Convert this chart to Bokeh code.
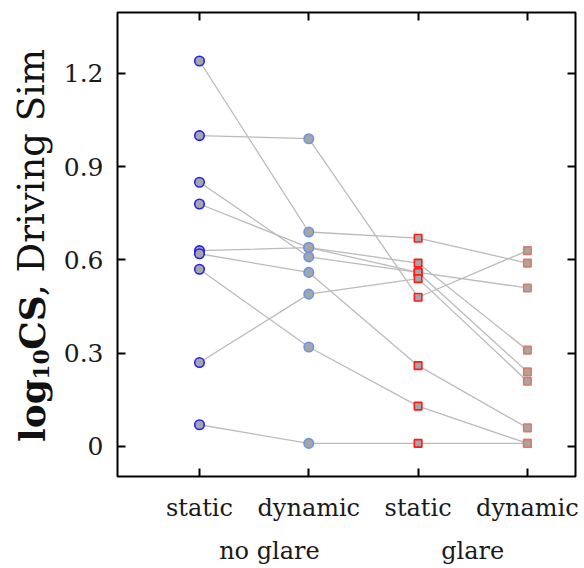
import numpy as np
from bokeh.plotting import figure
from bokeh.layouts import row
from bokeh.models import Range1d, FixedTicker, LinearAxis, CustomJSTickFormatter
from bokeh.core.properties import value
from bokeh.embed import file_html
from bokeh.resources import INLINE

# ---------------- data ----------------
conditions = [1, 2, 3, 4]
cond_labels = ["static", "dynamic", "static", "dynamic"]
group_pos = [1.64, 3.5]
group_labels = ["no glare", "glare"]
y_ticks = [0, 0.3, 0.6, 0.9, 1.2]
y_tick_labels = ["0", "0.3", "0.6", "0.9", "1.2"]

# one entry per subject (9 subjects)
noglare_static = [1.24, 1.00, 0.85, 0.78, 0.63, 0.62, 0.57, 0.27, 0.07]
noglare_dynamic = [0.69, 0.99, 0.61, 0.64, 0.64, 0.56, 0.32, 0.49, 0.01]
glare_static = [0.67, 0.48, 0.56, 0.59, 0.56, 0.26, 0.13, 0.54, 0.01]
glare_dynamic = [0.59, 0.63, 0.51, 0.31, 0.24, 0.06, 0.01, 0.21, 0.01]

series = [noglare_static, noglare_dynamic, glare_static, glare_dynamic]

# ---------------- style ----------------
FONT = "DejaVu Serif"
W, H = 584, 568
LW = 60                               # width of the y-title strip
X0, X1 = 0.25, 4.44
Y0, Y1 = -0.0965, 1.396
FL, FR, FT, FB = 116, 575, 12, 476   # frame edges on the page

p = figure(width=W - LW, height=H, x_range=Range1d(X0, X1), y_range=Range1d(Y0, Y1),
           output_backend="svg", toolbar_location=None,
           min_border_left=FL - LW, min_border_right=W - FR, min_border_top=FT,
           min_border_bottom=H - FB)
p.grid.visible = False
p.outline_line_color = "black"
p.outline_line_width = 2

# subject lines
xs = [conditions for _ in noglare_static]
ys = [[s[i] for s in series] for i in range(len(noglare_static))]
p.multi_line(xs=xs, ys=ys, line_color="#bbbbbb", line_width=1.3)

marker_specs = [
    ("circle", 9.5, "#1f1fff"),
    ("circle", 9.5, "#6a94e4"),
    ("square", 7.5, "#ff1a1a"),
    ("square", 7.5, "#da7c66"),
]
for cx, vals, (mk, sz, col) in zip(conditions, series, marker_specs):
    p.scatter(x=[cx] * len(vals), y=vals, marker=mk, size=sz,
              fill_color="#a6a6a6", line_color=col, line_width=1.6)

def style_axis(ax, ticks, font_size="23px"):
    ax.ticker = FixedTicker(ticks=ticks)
    ax.minor_tick_line_color = None
    ax.major_tick_in = 8
    ax.major_tick_out = 0
    ax.major_tick_line_width = 2
    ax.major_tick_line_color = "black"
    ax.axis_line_color = None
    ax.major_label_text_font = FONT
    ax.major_label_text_font_size = font_size
    ax.major_label_text_color = "#1a1a1a"

# bottom axis
xa = p.xaxis[0]
style_axis(xa, conditions, "24px")
xa.major_label_overrides = {c: l for c, l in zip(conditions, cond_labels)}
xa.major_label_standoff = 17

# group labels axis
ga = LinearAxis()
style_axis(ga, group_pos, "24px")
ga.major_tick_line_color = None
ga.major_label_overrides = {c: l for c, l in zip(group_pos, group_labels)}
ga.major_label_standoff = 12
p.add_layout(ga, "below")

# left axis
ya = p.yaxis[0]
style_axis(ya, y_ticks, "25px")
ya.major_label_overrides = {t: l for t, l in zip(y_ticks, y_tick_labels)}
ya.major_label_standoff = 14

# top & right axes: ticks only
ta = LinearAxis(formatter=CustomJSTickFormatter(code="return ''"))
style_axis(ta, conditions)
ta.major_label_standoff = 0
p.add_layout(ta, "above")
ra = LinearAxis(formatter=CustomJSTickFormatter(code="return ''"))
style_axis(ra, y_ticks)
ra.major_label_standoff = 0
p.add_layout(ra, "right")

# ---------------- y-axis title strip ----------------
# frame of the strip is aligned with the main frame vertically (same borders, same y range)
t = figure(width=LW, height=H, x_range=Range1d(0, LW), y_range=Range1d(Y0, Y1),
           output_backend="svg", toolbar_location=None,
           x_axis_location=None, y_axis_location=None,
           min_border_left=0, min_border_right=0,
           min_border_top=FT, min_border_bottom=H - FB)
t.grid.visible = False
t.outline_line_color = None

def dy(py):
    return Y1 - (py - FT) * (Y1 - Y0) / (FB - FT)

# (text, centre y on page, centre x on page, style, size)
pieces = [
    ("log", 410, 31, "bold", "36px"),
    ("10", 364, 40, "bold", "22px"),
    ("CS", 322, 31, "bold", "36px"),
    (", Driving Sim", 172, 31, "normal", "37px"),
]
for txt, yc, xc, style, fs in pieces:
    t.text(x=[xc], y=[dy(yc)], text=[txt], angle=np.pi / 2,
           text_font=value(FONT), text_font_style=value(style),
           text_font_size=value(fs), text_align="center", text_baseline="middle",
           text_color="#111111")

layout = row(t, p, spacing=0)
open("out.html", "w").write(file_html(layout, INLINE))
